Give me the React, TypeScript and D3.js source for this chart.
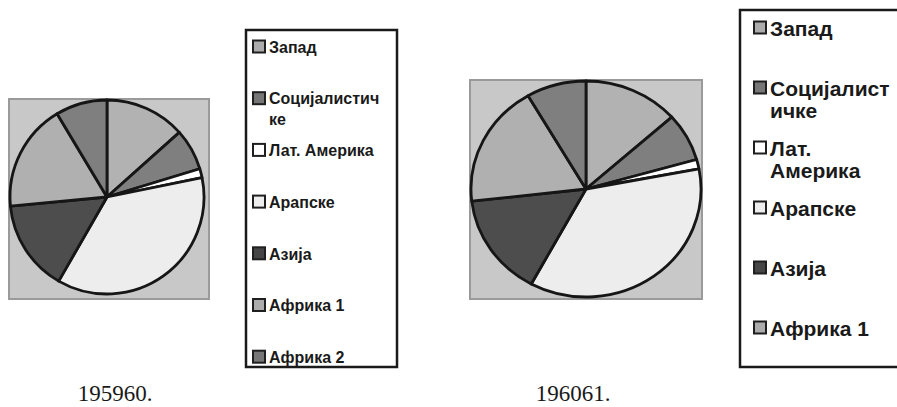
import { useEffect, useRef } from 'react';
import * as d3 from 'd3';

// Regions (legend order, clockwise from 12 o'clock)
const regions = ['Запад', 'Социјалистичке', 'Лат. Америка', 'Арапске', 'Азија', 'Африка 1', 'Африка 2'];
const sliceColors = ['#b2b2b2', '#7f7f7f', '#ffffff', '#ededee', '#4d4d4d', '#b0b0b0', '#7f7f7f'];
const swatchColors = ['#acacac', '#767676', '#ffffff', '#eeeeee', '#454545', '#acacac', '#767676'];

// shares in %
const share1959 = [13.4, 6.9, 1.5, 36.5, 15.2, 17.9, 8.6];
const share1960 = [13.4, 7.2, 1.4, 35.9, 15.3, 18.4, 8.4];

const captions = ['195960.', '196061.'];

const charts = [
  {
    values: share1959, caption: captions[0],
    plot: { x: 9, y: 99, w: 200, h: 200 }, cx: 107, cy: 197, rx: 97, ry: 97,
    legend: { x: 246, y: 30, w: 151, h: 337, first: 47, step: 51.7, font: 16, maxW: 116, sw: 13, textX: 269, lineH: 21 },
    capX: 115,
  },
  {
    values: share1960, caption: captions[1],
    plot: { x: 470, y: 80, w: 232, h: 219 }, cx: 586, cy: 189, rx: 115, ry: 108,
    legend: { x: 740, y: 10, w: 200, h: 357, first: 28, step: 60, font: 21, maxW: 127, sw: 13, textX: 770, lineH: 22 },
    capX: 573,
  },
];

// break into lines: words first, then characters when one word is too long
function wrapLines(text: string, maxW: number, measure: (s: string) => number): string[] {
  const lines: string[] = [];
  let cur = '';
  for (const word of text.split(' ')) {
    const trial = cur ? cur + ' ' + word : word;
    if (measure(trial) <= maxW) { cur = trial; continue; }
    if (cur) { lines.push(cur); cur = ''; }
    let piece = '';
    for (const ch of word) {
      if (measure(piece + ch) > maxW && piece) { lines.push(piece); piece = ch; }
      else piece += ch;
    }
    cur = piece;
  }
  if (cur) lines.push(cur);
  return lines;
}

export default function App() {
  const svgRef = useRef<SVGSVGElement>(null);

  useEffect(() => {
    document.body.style.margin = '0';
    const svg = d3.select(svgRef.current);
    svg.selectAll('*').remove();

    const font = "'Liberation Sans', Arial, sans-serif";
    const canvas = document.createElement('canvas');
    const ctx = canvas.getContext('2d')!;

    const pie = d3.pie<number>().sort(null).value(d => d);

    charts.forEach(c => {
      // plot area
      svg.append('rect')
        .attr('x', c.plot.x).attr('y', c.plot.y)
        .attr('width', c.plot.w).attr('height', c.plot.h)
        .attr('fill', '#c8c8c8')
        .attr('stroke', '#9a9a9a')
        .attr('stroke-width', 2);

      const arc = d3.arc<d3.PieArcDatum<number>>().innerRadius(0).outerRadius(c.ry);
      const g = svg.append('g')
        .attr('transform', `translate(${c.cx},${c.cy}) scale(${c.rx / c.ry},1)`);

      g.selectAll('path')
        .data(pie(c.values))
        .join('path')
        .attr('d', arc)
        .attr('fill', (_, i) => sliceColors[i])
        .attr('stroke', '#161616')
        .attr('stroke-width', 2.8)
        .attr('stroke-linejoin', 'round')
        .attr('vector-effect', 'non-scaling-stroke');

      // legend
      const L = c.legend;
      const clipId = `clip-${c.caption.replace('.', '')}`;
      svg.append('clipPath').attr('id', clipId)
        .append('rect').attr('x', L.x).attr('y', L.y).attr('width', L.w).attr('height', L.h + 2);

      const lg = svg.append('g').attr('clip-path', `url(#${clipId})`);
      ctx.font = `bold ${L.font}px ${font}`;
      const measure = (s: string) => ctx.measureText(s).width;

      regions.forEach((name, i) => {
        const cy = L.first + i * L.step;
        if (cy > L.y + L.h) return;
        lg.append('rect')
          .attr('x', L.textX - L.sw - 3).attr('y', cy - L.sw / 2)
          .attr('width', L.sw - 1).attr('height', L.sw - 1)
          .attr('fill', swatchColors[i])
          .attr('stroke', '#1f1f1f')
          .attr('stroke-width', 2);
        const lines = wrapLines(name, L.maxW, measure);
        const t = lg.append('text')
          .attr('x', L.textX).attr('y', cy)
          .attr('font-family', font)
          .attr('font-weight', 'bold')
          .attr('font-size', L.font)
          .attr('fill', '#1a1a1a');
        lines.forEach((ln, k) => {
          t.append('tspan').attr('x', L.textX).attr('y', cy + k * L.lineH).attr('dy', '0.36em').text(ln);
        });
      });

      svg.append('rect')
        .attr('x', L.x).attr('y', L.y)
        .attr('width', L.w).attr('height', L.h)
        .attr('fill', 'none')
        .attr('stroke', '#1a1a1a')
        .attr('stroke-width', 2.5);

      // caption under each chart
      svg.append('text')
        .attr('x', c.capX).attr('y', 401)
        .attr('text-anchor', 'middle')
        .attr('font-family', "'Liberation Serif', 'Times New Roman', serif")
        .attr('font-size', 23)
        .attr('fill', '#1a1a1a')
        .text(c.caption);
    });
  }, []);

  return <svg ref={svgRef} width={897} height={407} style={{ display: 'block' }} />;
}
